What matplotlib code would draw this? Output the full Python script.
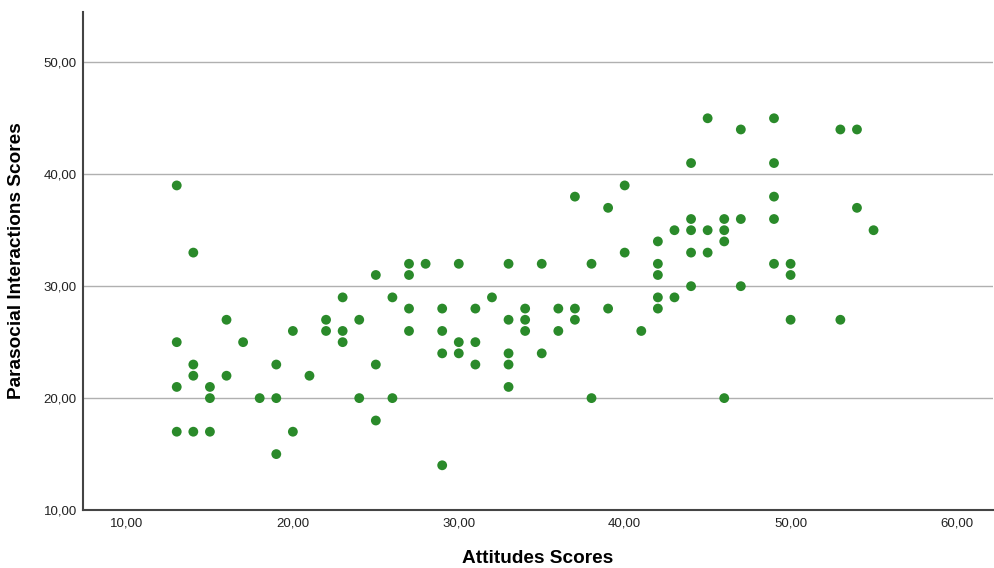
import matplotlib
matplotlib.use("Agg")
from matplotlib import pyplot as plt
from matplotlib.ticker import FuncFormatter

plt.rcParams['font.family'] = ['Liberation Sans', 'DejaVu Sans']

# attitude score -> parasocial interaction scores observed at that attitude
attitudes = [13, 13, 13, 13,
             14, 14, 14, 14,
             15, 15, 15,
             16, 16,
             17,
             18,
             19, 19, 19,
             20, 20,
             21,
             22, 22,
             23, 23, 23,
             24, 24,
             25, 25, 25,
             26, 26,
             27, 27, 27, 27,
             28,
             29, 29, 29, 29,
             30, 30, 30,
             31, 31, 31,
             32,
             33, 33, 33, 33, 33,
             34, 34, 34,
             35, 35,
             36, 36,
             37, 37, 37,
             38, 38,
             39, 39,
             40, 40,
             41,
             42, 42, 42, 42, 42,
             43, 43,
             44, 44, 44, 44, 44,
             45, 45, 45,
             46, 46, 46, 46,
             47, 47, 47,
             49, 49, 49, 49, 49,
             50, 50, 50,
             53, 53,
             54, 54,
             55]

parasocial = [39, 25, 21, 17,
              33, 23, 22, 17,
              21, 20, 17,
              27, 22,
              25,
              20,
              23, 20, 15,
              26, 17,
              22,
              27, 26,
              29, 26, 25,
              27, 20,
              31, 23, 18,
              29, 20,
              32, 31, 28, 26,
              32,
              28, 26, 24, 14,
              32, 25, 24,
              28, 25, 23,
              29,
              32, 27, 24, 23, 21,
              28, 27, 26,
              32, 24,
              28, 26,
              38, 28, 27,
              32, 20,
              37, 28,
              39, 33,
              26,
              34, 32, 31, 29, 28,
              35, 29,
              41, 36, 35, 33, 30,
              45, 35, 33,
              36, 35, 34, 20,
              44, 36, 30,
              45, 41, 38, 36, 32,
              32, 31, 27,
              44, 27,
              44, 37,
              35]

x_ticks = [10, 20, 30, 40, 50, 60]
y_ticks = [10, 20, 30, 40, 50]

fig = plt.figure(figsize=(9.94, 5.68), dpi=100)
ax = fig.add_axes([0.0835, 0.102, 0.9155, 0.877])

ax.scatter(attitudes, parasocial, s=50, color='#2a8a2a', edgecolors='none', zorder=3)

ax.set_xlim(7.35, 62.2)
ax.set_ylim(10, 54.5)
ax.set_xticks(x_ticks)
ax.set_yticks(y_ticks)

comma_fmt = FuncFormatter(lambda v, pos: f"{v:.2f}".replace('.', ','))
ax.xaxis.set_major_formatter(comma_fmt)
ax.yaxis.set_major_formatter(comma_fmt)
ax.tick_params(axis='both', length=0, labelsize=9.5, colors='#222222')
ax.tick_params(axis='x', pad=5.5)
ax.tick_params(axis='y', pad=4.5)

for y in y_ticks[1:]:
    ax.axhline(y, color='#b0b0b0', lw=1, zorder=1)

for side in ['top', 'right']:
    ax.spines[side].set_visible(False)
for side in ['left', 'bottom']:
    ax.spines[side].set_color('#444444')
    ax.spines[side].set_linewidth(1.5)

ax.set_xlabel("Attitudes Scores", fontsize=13.7, fontweight='bold', va='center')
ax.set_ylabel("Parasocial Interactions Scores", fontsize=13.7, fontweight='bold', va='center')
ax.xaxis.set_label_coords(0.5, -0.0964)
ax.yaxis.set_label_coords(-0.0736, 0.5)

fig.savefig("out.png", dpi=100)
